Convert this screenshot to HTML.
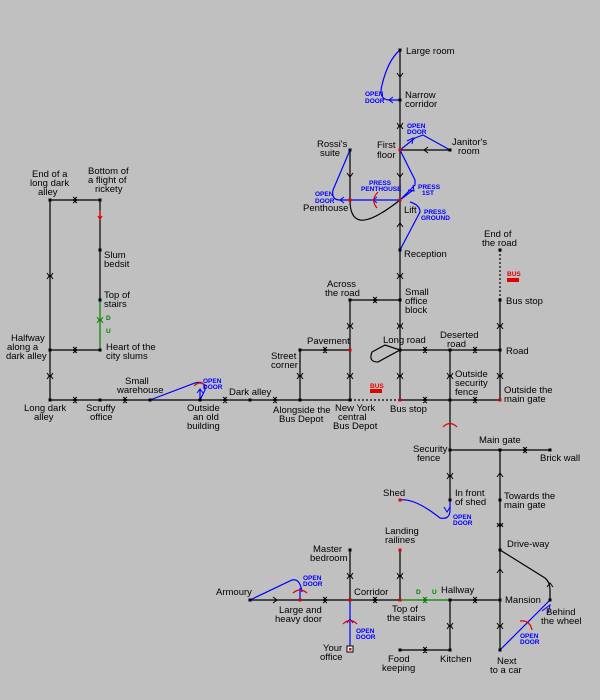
<!DOCTYPE html>
<html><head><style>
html,body{margin:0;padding:0;background:#c0c0c0;}
svg{display:block;}
text{font-family:"Liberation Sans",sans-serif;font-size:9.5px;fill:#000;}
.b{fill:#0000ff;font-size:6.5px;font-weight:bold;}
.g{fill:#008000;font-size:6.5px;font-weight:bold;}
.r{fill:#e00000;font-size:6.5px;font-weight:bold;}
</style></head><body>
<svg width="600" height="700" viewBox="0 0 600 700" xmlns="http://www.w3.org/2000/svg">
<rect width="600" height="700" fill="#c0c0c0"/>
<g stroke="#000" stroke-width="1.2" fill="none">
<path d="M400 50V400"/>
<path d="M350 150V200"/>
<path d="M350 300V400"/>
<path d="M300 350V400"/>
<path d="M450 350V500"/>
<path d="M500 300V400"/>
<path d="M500 450V650"/>
<path d="M50 200V400"/>
<path d="M100 200V300"/>
<path d="M350 550V600"/>
<path d="M400 550V600"/>
<path d="M450 600V650"/>
<path d="M400 150H450"/>
<path d="M350 300H400"/>
<path d="M300 350H350"/>
<path d="M400 350H500"/>
<path d="M50 400H350"/>
<path d="M400 400H500"/>
<path d="M50 200H100"/>
<path d="M50 350H100"/>
<path d="M450 450H550"/>
<path d="M250 600H400"/>
<path d="M450 600H500"/>
<path d="M400 650H450"/>
<path d="M350 200 Q350 218 360 220 Q372 222 400 200"/>
<path d="M400 350 L378 362 Q368 362 372 352 L385 345 Z"/>
<path d="M500 550 L545 578 Q550 582 550 590 V600"/>
</g>
<path d="M350 400H400" stroke="#000" stroke-width="1.2" stroke-dasharray="2,2"/>
<path d="M500 250V300" stroke="#000" stroke-width="1.2" stroke-dasharray="2,2"/>
<path d="M100 300V350" stroke="#008000" stroke-width="1.2"/>
<path d="M400 600H450" stroke="#008000" stroke-width="1.2"/>
<g stroke="#0000ff" stroke-width="1.2" fill="none">
<path d="M400 50 Q388 60 382 85 Q378 100 390 100 H400"/>
<path d="M400 150 L415 138 L423 135 L450 150"/>
<path d="M400 150 L415 180 L415 185 L400 200"/>
<path d="M400 200 L413 190"/>
<path d="M350 150 L333 190 Q331 200 340 200 H400"/>
<path d="M400 250 L420 212 Q420 205 410 202"/>
<path d="M150 400 L195 383 Q205 380 205 390 L200 400"/>
<path d="M200 390V400"/>
<path d="M250 600 L292 580 Q300 578 302 592"/>
<path d="M300 600V588"/>
<path d="M350 600V650"/>
<path d="M400 500 Q415 498 440 518 Q450 520 450 510 V500"/>
<path d="M500 650 L550 600"/>
</g>
<g stroke="#000" stroke-width="1" fill="none">
<path d="M397 73l3 4 3-4M397 123l3 4 3-4M397 129l3-4 3 4M397 173l3 4 3-4M397 227l3-4 3 4M397 273l3 4 3-4M397 279l3-4 3 4M397 323l3 4 3-4M397 329l3-4 3 4M397 373l3 4 3-4M397 379l3-4 3 4"/>
<path d="M347 173l3 4 3-4M347 323l3 4 3-4M347 329l3-4 3 4M347 373l3 4 3-4M347 379l3-4 3 4"/>
<path d="M297 373l3 4 3-4M297 379l3-4 3 4"/>
<path d="M447 373l3 4 3-4M447 379l3-4 3 4M447 473l3 4 3-4M447 479l3-4 3 4"/>
<path d="M497 323l3 4 3-4M497 329l3-4 3 4M497 373l3 4 3-4M497 379l3-4 3 4"/>
<path d="M497 477l3-4 3 4M497 523l3 4 3-4M497 527l3-4 3 4M497 573l3-4 3 4M497 623l3 4 3-4M497 629l3-4 3 4"/>
<path d="M547 587l3-4 3 4"/>
<path d="M47 273l3 4 3-4M47 279l3-4 3 4M47 373l3 4 3-4M47 379l3-4 3 4"/>
<path d="M347 573l3 4 3-4M347 579l3-4 3 4M397 573l3 4 3-4M397 579l3-4 3 4M447 623l3 4 3-4M447 629l3-4 3 4"/>
<path d="M428 147l-4 3 4 3M373 297l4 3-4 3M377 297l-4 3 4 3"/>
<path d="M323 347l4 3-4 3M327 347l-4 3 4 3M423 347l4 3-4 3M427 347l-4 3 4 3M473 347l4 3-4 3M477 347l-4 3 4 3"/>
<path d="M73 397l4 3-4 3M77 397l-4 3 4 3M123 397l4 3-4 3M127 397l-4 3 4 3M223 397l4 3-4 3M227 397l-4 3 4 3M273 397l4 3-4 3M277 397l-4 3 4 3"/>
<path d="M423 397l4 3-4 3M427 397l-4 3 4 3M473 397l4 3-4 3M477 397l-4 3 4 3"/>
<path d="M73 197l4 3-4 3M77 197l-4 3 4 3M73 347l4 3-4 3M77 347l-4 3 4 3"/>
<path d="M523 447l4 3-4 3M527 447l-4 3 4 3"/>
<path d="M273 597l4 3-4 3M323 597l4 3-4 3M327 597l-4 3 4 3M373 597l4 3-4 3M377 597l-4 3 4 3M473 597l4 3-4 3M477 597l-4 3 4 3M423 647l4 3-4 3M427 647l-4 3 4 3"/>
</g>
<g stroke="#0000ff" stroke-width="1" fill="none">
<path d="M393 97l-4 3 4 3M407 141l6-3-1 6M413 185l1 6-6-1M344 197l-4 3 4 3M377 197l-4 3 4 3M197 393l3-4 3 4M347 623l3-4 3 4M444 507l3 5 3-5M542 611l8-6-2 8"/>
</g>
<path d="M423 597l4 3-4 3M427 597l-4 3 4 3M97 317l3 4 3-4M97 323l3-4 3 4" stroke="#008000" stroke-width="1" fill="none"/>
<g stroke="#e00000" stroke-width="1.2" fill="none">
<path d="M378 192 Q370 200 377 208"/>
<path d="M443 427 Q450 420 457 427"/>
<path d="M194 386 Q200 380 206 386"/>
<path d="M293 593 Q300 587 307 593"/>
<path d="M343 624 Q350 617 357 624"/>
<path d="M520 621 Q530 620 532 630"/>
<path d="M100 210V219M98 216l2 3 2-3"/>
</g>
<g fill="#000">
<rect x="398.5" y="48.5" width="3" height="3"/><rect x="398.5" y="98.5" width="3" height="3"/>
<rect x="448.5" y="148.5" width="3" height="3"/><rect x="348.5" y="148.5" width="3" height="3"/>
<rect x="398.5" y="248.5" width="3" height="3"/><rect x="398.5" y="298.5" width="3" height="3"/>
<rect x="348.5" y="298.5" width="3" height="3"/><rect x="298.5" y="348.5" width="3" height="3"/>
<rect x="298.5" y="398.5" width="3" height="3"/><rect x="248.5" y="398.5" width="3" height="3"/>
<rect x="198.5" y="398.5" width="3" height="3"/><rect x="148.5" y="398.5" width="3" height="3"/>
<rect x="98.5" y="398.5" width="3" height="3"/><rect x="48.5" y="398.5" width="3" height="3"/>
<rect x="48.5" y="348.5" width="3" height="3"/><rect x="48.5" y="198.5" width="3" height="3"/>
<rect x="98.5" y="198.5" width="3" height="3"/><rect x="98.5" y="248.5" width="3" height="3"/>
<rect x="98.5" y="298.5" width="3" height="3"/><rect x="98.5" y="348.5" width="3" height="3"/>
<rect x="348.5" y="398.5" width="3" height="3"/><rect x="398.5" y="348.5" width="3" height="3"/>
<rect x="448.5" y="348.5" width="3" height="3"/><rect x="498.5" y="348.5" width="3" height="3"/>
<rect x="448.5" y="398.5" width="3" height="3"/><rect x="498.5" y="248.5" width="3" height="3"/>
<rect x="498.5" y="298.5" width="3" height="3"/><rect x="448.5" y="448.5" width="3" height="3"/>
<rect x="498.5" y="448.5" width="3" height="3"/><rect x="548.5" y="448.5" width="3" height="3"/>
<rect x="448.5" y="498.5" width="3" height="3"/><rect x="498.5" y="498.5" width="3" height="3"/>
<rect x="498.5" y="548.5" width="3" height="3"/><rect x="498.5" y="598.5" width="3" height="3"/>
<rect x="548.5" y="598.5" width="3" height="3"/><rect x="498.5" y="648.5" width="3" height="3"/>
<rect x="448.5" y="598.5" width="3" height="3"/><rect x="448.5" y="648.5" width="3" height="3"/>
<rect x="398.5" y="648.5" width="3" height="3"/><rect x="348.5" y="548.5" width="3" height="3"/>
<rect x="248.5" y="598.5" width="3" height="3"/>
</g>
<g fill="#e00000">
<rect x="398.5" y="148.5" width="3" height="3"/><rect x="348.5" y="198.5" width="3" height="3"/>
<rect x="398.5" y="198.5" width="3" height="3"/><rect x="348.5" y="348.5" width="3" height="3"/>
<rect x="398.5" y="398.5" width="3" height="3"/><rect x="498.5" y="398.5" width="3" height="3"/>
<rect x="398.5" y="498.5" width="3" height="3"/><rect x="398.5" y="598.5" width="3" height="3"/>
<rect x="398.5" y="548.5" width="3" height="3"/><rect x="348.5" y="598.5" width="3" height="3"/>
<rect x="298.5" y="598.5" width="3" height="3"/>
</g>
<rect x="347" y="646" width="6" height="6" fill="#fff" stroke="#000"/><rect x="349" y="648" width="2.5" height="2.5" fill="#e00000"/>
<rect x="370" y="389" width="12" height="4" fill="#e00000"/><rect x="507" y="278" width="12" height="4" fill="#e00000"/>
<text class="r" x="370" y="388">BUS</text><text class="r" x="507" y="276">BUS</text>
<text class="b" x="365" y="96">OPEN</text><text class="b" x="365" y="103">DOOR</text>
<text class="b" x="407" y="128">OPEN</text><text class="b" x="407" y="134">DOOR</text>
<text class="b" x="418" y="189">PRESS</text><text class="b" x="422" y="195">1ST</text>
<text class="b" x="369" y="185">PRESS</text><text class="b" x="361" y="191">PENTHOUSE</text>
<text class="b" x="315" y="196">OPEN</text><text class="b" x="315" y="203">DOOR</text>
<text class="b" x="424" y="214">PRESS</text><text class="b" x="421" y="220">GROUND</text>
<text class="b" x="203" y="383">OPEN</text><text class="b" x="203" y="389">DOOR</text>
<text class="b" x="453" y="519">OPEN</text><text class="b" x="453" y="525">DOOR</text>
<text class="b" x="303" y="580">OPEN</text><text class="b" x="303" y="586">DOOR</text>
<text class="b" x="356" y="633">OPEN</text><text class="b" x="356" y="639">DOOR</text>
<text class="b" x="520" y="638">OPEN</text><text class="b" x="520" y="644">DOOR</text>
<text class="g" x="106" y="320">D</text><text class="g" x="106" y="333">U</text>
<text class="g" x="416" y="594">D</text><text class="g" x="432" y="594">U</text>
<text x="406" y="54">Large room</text>
<text x="405" y="98">Narrow</text><text x="405" y="107">corridor</text>
<text x="377" y="148">First</text><text x="377" y="158">floor</text>
<text x="452" y="145">Janitor's</text><text x="458" y="154">room</text>
<text x="317" y="147">Rossi's</text><text x="320" y="156">suite</text>
<text x="303" y="211">Penthouse</text>
<text x="404" y="213">Lift</text>
<text x="404" y="257">Reception</text>
<text x="405" y="295">Small</text><text x="405" y="304">office</text><text x="405" y="313">block</text>
<text x="327" y="287">Across</text><text x="325" y="296">the road</text>
<text x="307" y="344">Pavement</text>
<text x="271" y="359">Street</text><text x="271" y="368">corner</text>
<text x="273" y="413">Alongside the</text><text x="279" y="422">Bus Depot</text>
<text x="229" y="395">Dark alley</text>
<text x="187" y="411">Outside</text><text x="193" y="420">an old</text><text x="187" y="429">building</text>
<text x="125" y="384">Small</text><text x="117" y="393">warehouse</text>
<text x="86" y="411">Scruffy</text><text x="90" y="420">office</text>
<text x="24" y="411">Long dark</text><text x="34" y="420">alley</text>
<text x="11" y="341">Halfway</text><text x="7" y="350">along a</text><text x="6" y="359">dark alley</text>
<text x="32" y="177">End of a</text><text x="30" y="186">long dark</text><text x="38" y="195">alley</text>
<text x="88" y="174">Bottom of</text><text x="88" y="183">a flight of</text><text x="95" y="192">rickety</text>
<text x="104" y="258">Slum</text><text x="104" y="267">bedsit</text>
<text x="104" y="298">Top of</text><text x="104" y="307">stairs</text>
<text x="106" y="350">Heart of the</text><text x="106" y="359">city slums</text>
<text x="335" y="411">New York</text><text x="338" y="420">central</text><text x="333" y="429">Bus Depot</text>
<text x="383" y="343">Long road</text>
<text x="390" y="412">Bus stop</text>
<text x="440" y="338">Deserted</text><text x="447" y="347">road</text>
<text x="506" y="354">Road</text>
<text x="455" y="377">Outside</text><text x="455" y="386">security</text><text x="455" y="395">fence</text>
<text x="504" y="393">Outside the</text><text x="504" y="402">main gate</text>
<text x="484" y="237">End of</text><text x="482" y="246">the road</text>
<text x="506" y="304">Bus stop</text>
<text x="413" y="452">Security</text><text x="417" y="461">fence</text>
<text x="479" y="443">Main gate</text>
<text x="540" y="461">Brick wall</text>
<text x="383" y="496">Shed</text>
<text x="455" y="496">In front</text><text x="455" y="505">of shed</text>
<text x="504" y="499">Towards the</text><text x="504" y="508">main gate</text>
<text x="507" y="547">Drive-way</text>
<text x="505" y="603">Mansion</text>
<text x="546" y="615">Behind</text><text x="541" y="624">the wheel</text>
<text x="497" y="664">Next</text><text x="490" y="673">to a car</text>
<text x="441" y="593">Hallway</text>
<text x="440" y="662">Kitchen</text>
<text x="388" y="662">Food</text><text x="382" y="671">keeping</text>
<text x="392" y="612">Top of</text><text x="387" y="621">the stairs</text>
<text x="385" y="534">Landing</text><text x="385" y="543">railines</text>
<text x="354" y="595">Corridor</text>
<text x="313" y="552">Master</text><text x="310" y="561">bedroom</text>
<text x="323" y="651">Your</text><text x="320" y="660">office</text>
<text x="279" y="613">Large and</text><text x="275" y="622">heavy door</text>
<text x="216" y="595">Armoury</text>
</svg>
</body></html>
